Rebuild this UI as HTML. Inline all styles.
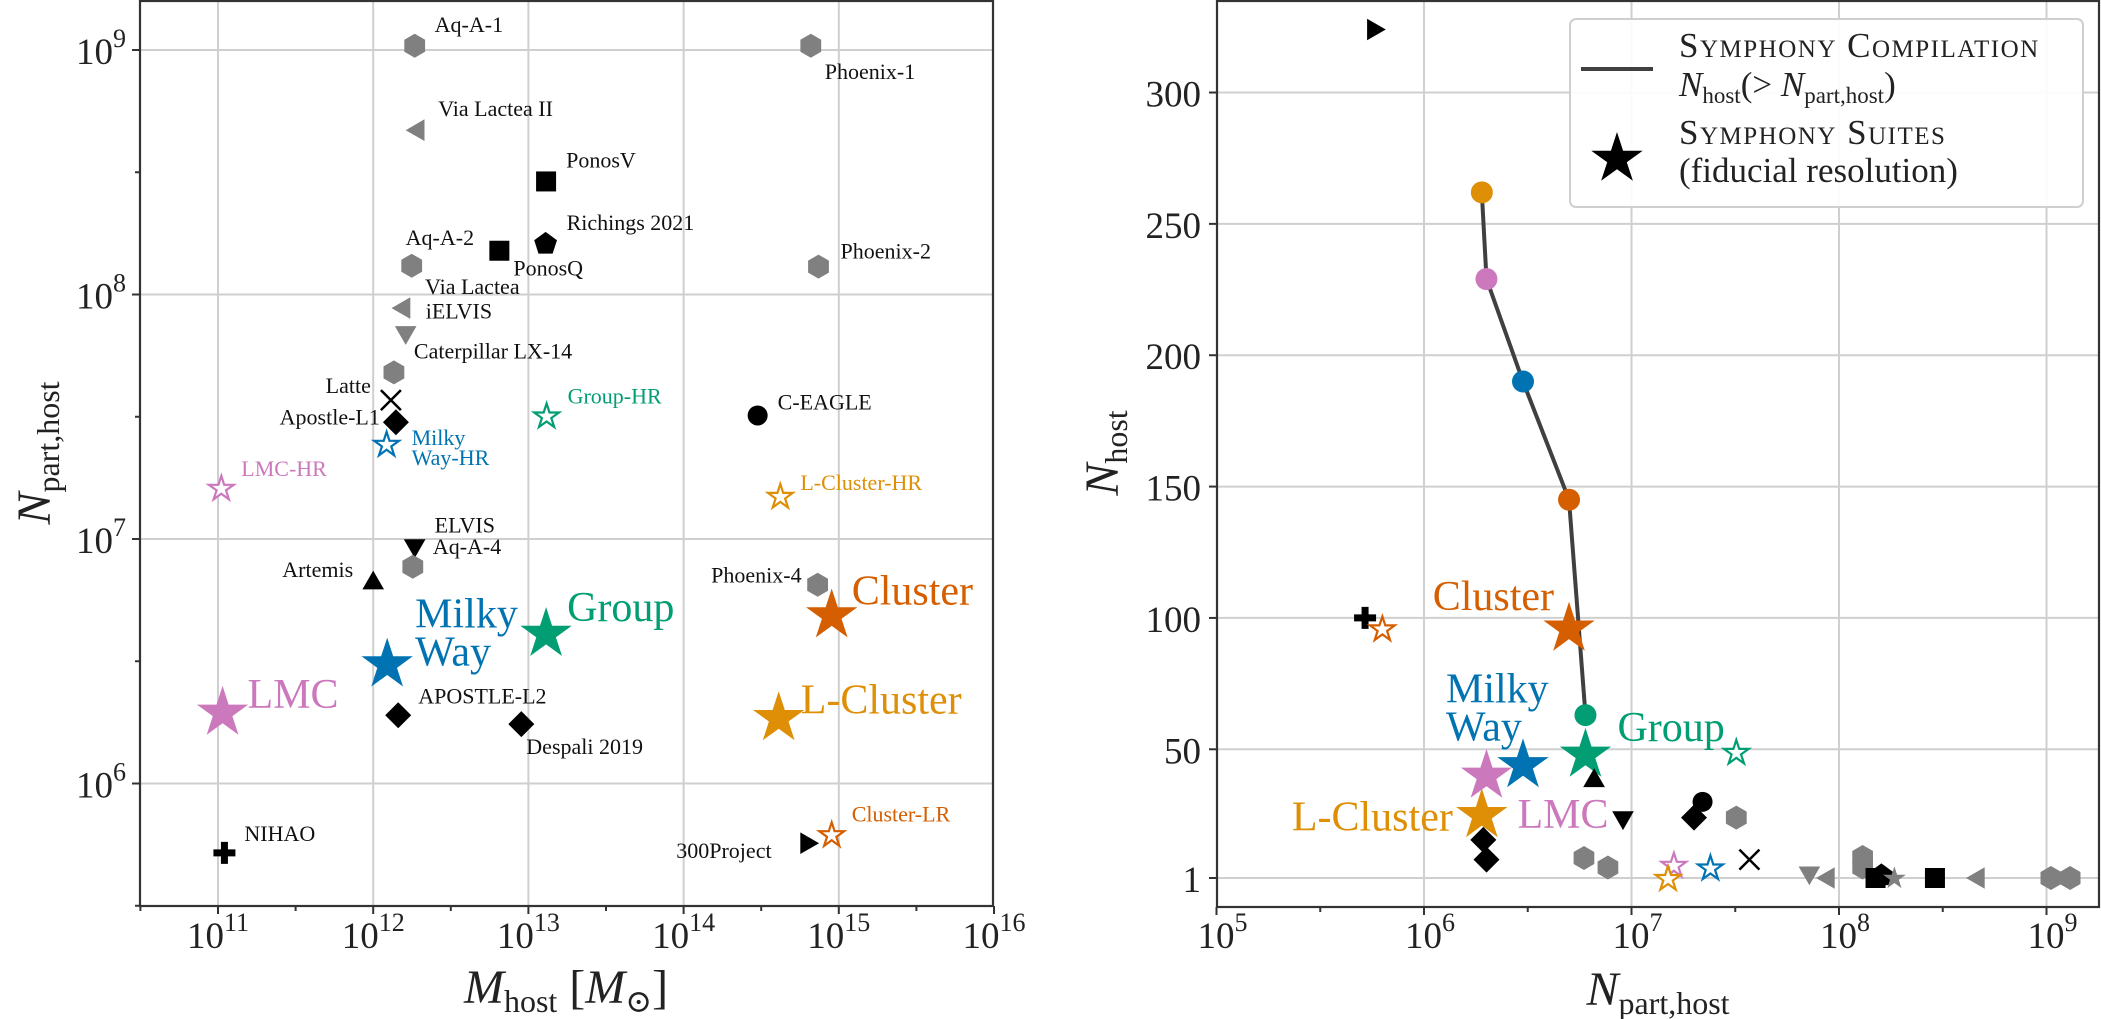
<!DOCTYPE html>
<html><head><meta charset="utf-8"><style>
html,body{margin:0;padding:0;background:#fff;}
svg{display:block;}
svg text{font-family:"Liberation Serif","DejaVu Serif",serif;}
</style></head><body>
<svg id="fig" width="2101" height="1019" viewBox="0 0 2101 1019" xmlns="http://www.w3.org/2000/svg" font-family="Liberation Serif, DejaVu Serif, serif"></svg>
<script>
// ---------- LEFT PANEL DATA ----------
const leftNames=["Aq-A-1","Phoenix-1","Via Lactea II","PonosV","Richings 2021","PonosQ","Aq-A-2","Phoenix-2","Via Lactea","iELVIS","Caterpillar LX-14","Latte","Apostle-L1","Milky Way-HR","Group-HR","C-EAGLE","LMC-HR","L-Cluster-HR","ELVIS","Aq-A-4","Artemis","Phoenix-4","Cluster","Group","Milky Way","LMC","L-Cluster","APOSTLE-L2","Despali 2019","NIHAO","300Project","Cluster-LR"];
const leftMhost=[1.85e12,6.6e14,1.95e12,1.3e13,1.29e13,6.5e12,1.77e12,7.4e14,1.58e12,1.62e12,1.36e12,1.3e12,1.4e12,1.22e12,1.31e13,3.0e14,1.05e11,4.2e14,1.85e12,1.8e12,1.0e12,7.3e14,9.0e14,1.3e13,1.23e12,1.07e11,4.1e14,1.45e12,9.0e12,1.1e11,6.2e14,9.0e14];
const leftNpart=[1.04e9,1.04e9,4.7e8,2.9e8,1.61e8,1.51e8,1.31e8,1.3e8,8.8e7,7.0e7,4.8e7,3.7e7,3.0e7,2.45e7,3.2e7,3.2e7,1.62e7,1.5e7,9.4e6,7.7e6,6.6e6,6.5e6,5.0e6,4.2e6,3.15e6,2.0e6,1.9e6,1.9e6,1.75e6,5.2e5,5.7e5,6.2e5];
const leftXTicks=[11,12,13,14,15,16];
const leftYTicks=[6,7,8,9];
// ---------- RIGHT PANEL DATA ----------
const compNpart=[1.9e6,2.0e6,3.0e6,5.0e6,6.0e6];
const compNhost=[262,229,190,145,63];
const rightNames=["300Project","NIHAO","Cluster-LR","Cluster","Group","Milky Way","LMC","L-Cluster","Artemis","ELVIS","APOSTLE-L2","Despali 2019","Phoenix-4","Aq-A-4","C-EAGLE","Apostle-L1","Caterpillar LX-14","Group-HR","LMC-HR","L-Cluster-HR","Milky Way-HR","Latte","iELVIS","Via Lactea","Aq-A-2","Phoenix-2","PonosQ","Richings 2021","Grey-star","PonosV","Via Lactea II","Aq-A-1","Phoenix-1"];
const rightNpart=[5.7e5,5.2e5,6.3e5,5.0e6,6.0e6,3.0e6,2.0e6,1.9e6,6.6e6,9.1e6,1.93e6,2.0e6,5.9e6,7.7e6,2.2e7,2.0e7,3.2e7,3.2e7,1.6e7,1.5e7,2.4e7,3.7e7,7.2e7,8.9e7,1.3e8,1.3e8,1.5e8,1.6e8,1.85e8,2.9e8,4.7e8,1.05e9,1.3e9];
const rightNhost=[324,100,96,97,49,45,41,26,38,24,15.5,8,8.6,5,30,24,24,49,6,1,5,8,3,1,9,5,1,2,2,1,1,1,1];
const rightXTicks=[5,6,7,8,9];
const rightYTicks=[1,50,100,150,200,250,300];

// ---------- STYLES ----------
const GREY="#808080",PINK="#CC78BC",BLUE="#0173B2",GREEN="#029E73",ORANGE="#DE8F05",RED="#D55E00";
const S={
"Aq-A-1":{m:"hex",c:GREY,l:[20,-14,"start"]},
"Phoenix-1":{m:"hex",c:GREY,l:[14,33,"start"]},
"Via Lactea II":{m:"tril",c:GREY,l:[20,-14,"start"]},
"PonosV":{m:"sq",c:"#000",l:[20,-14,"start"]},
"Richings 2021":{m:"pent",c:"#000",l:[21,-14,"start"]},
"PonosQ":{m:"sq",c:"#000",l:[14,25,"start"]},
"Aq-A-2":{m:"hex",c:GREY,l:[-6,-21,"start"]},
"Phoenix-2":{m:"hex",c:GREY,l:[22,-8,"start"]},
"Via Lactea":{m:"tril",c:GREY,l:[21,-14,"start"]},
"iELVIS":{m:"trid",c:GREY,l:[20,-14,"start"]},
"Caterpillar LX-14":{m:"hex",c:GREY,l:[20,-14,"start"]},
"Latte":{m:"x",c:"#000",l:[-20,-7,"end"]},
"Apostle-L1":{m:"dia",c:"#000",l:[-16,2,"end"]},
"Milky Way-HR":{m:"ostar",c:BLUE,l:[25,1,"start"],t:["Milky","Way-HR"],tc:BLUE},
"Group-HR":{m:"ostar",c:GREEN,l:[21,-12,"start"],tc:GREEN},
"C-EAGLE":{m:"circ",c:"#000",l:[20,-6,"start"]},
"LMC-HR":{m:"ostar",c:PINK,l:[20,-12,"start"],tc:PINK},
"L-Cluster-HR":{m:"ostar",c:ORANGE,l:[20,-6,"start"],tc:ORANGE},
"ELVIS":{m:"trid",c:"#000",l:[20,-13,"start"]},
"Aq-A-4":{m:"hex",c:GREY,l:[20,-13,"start"]},
"Artemis":{m:"triu",c:"#000",l:[-20,-6,"end"]},
"Phoenix-4":{m:"hex",c:GREY,l:[-16,-2,"end"]},
"Cluster":{m:"star",c:RED,l:[20,-8,"start"],tc:RED,big:1},
"Group":{m:"star",c:GREEN,l:[21,-10,"start"],tc:GREEN,big:1},
"Milky Way":{m:"star",c:BLUE,l:[28,-34,"start"],t:["Milky","Way"],tc:BLUE,big:1},
"LMC":{m:"star",c:PINK,l:[25,-2,"start"],tc:PINK,big:1},
"L-Cluster":{m:"star",c:ORANGE,l:[22,-2,"start"],tc:ORANGE,big:1},
"APOSTLE-L2":{m:"dia",c:"#000",l:[20,-12,"start"]},
"Despali 2019":{m:"dia",c:"#000",l:[5,30,"start"]},
"NIHAO":{m:"plus",c:"#000",l:[20,-12,"start"]},
"300Project":{m:"trir",c:"#000",l:[-35,15,"end"]},
"Cluster-LR":{m:"ostar",c:RED,l:[20,-13,"start"],tc:RED},
"Grey-star":{m:"star",c:GREY,small:1}
};
const rightLabels={"Cluster":[-15,-16,"end",["Cluster"]],"Milky Way":[-77,-60,"start",["Milky","Way"]],"Group":[32,-11,"start",["Group"]],"L-Cluster":[-29,18,"end",["L-Cluster"]],"LMC":[31,55,"start",["LMC"]]};

const svg=document.getElementById('fig');
const NS="http://www.w3.org/2000/svg";
const FF="Liberation Serif, DejaVu Serif, serif";
function mk(tag,attrs,parent){const e=document.createElementNS(NS,tag);for(const k in attrs)e.setAttribute(k,attrs[k]);if(tag==='text')e.setAttribute('font-family',FF);(parent||svg).appendChild(e);return e;}

// axis functions
const Lx=v=>218+(Math.log10(v)-11)*155.2;
const Ly=v=>50+(9-Math.log10(v))*244.5;
const Rx=v=>1424+(Math.log10(v)-6)*207.5;
const Ry=v=>878-(v-1)*2.627;

function starPts(cx,cy,R){let p=[];for(let i=0;i<10;i++){const r=i%2?R*0.382:R;const a=-Math.PI/2+i*Math.PI/5;p.push((cx+r*Math.cos(a)).toFixed(1)+","+(cy+r*Math.sin(a)).toFixed(1));}return p.join(" ");}
function polyPts(cx,cy,R,n,rot){let p=[];for(let i=0;i<n;i++){const a=rot+i*2*Math.PI/n;p.push((cx+R*Math.cos(a)).toFixed(1)+","+(cy+R*Math.sin(a)).toFixed(1));}return p.join(" ");}
function marker(g,st,cx,cy,name){
  let e;const c=st.c;
  switch(st.m){
    case "hex": e=mk('polygon',{points:polyPts(cx,cy,12,6,-Math.PI/2),fill:c},g);break;
    case "circ": e=mk('circle',{cx:cx,cy:cy,r:10,fill:c},g);break;
    case "sq": e=mk('rect',{x:cx-10,y:cy-10,width:20,height:20,fill:c},g);break;
    case "pent": e=mk('polygon',{points:polyPts(cx,cy,12,5,-Math.PI/2),fill:c},g);break;
    case "dia": e=mk('polygon',{points:polyPts(cx,cy,13,4,-Math.PI/2),fill:c},g);break;
    case "triu": e=mk('polygon',{points:polyPts(cx,cy,12.5,3,-Math.PI/2),fill:c},g);break;
    case "trid": e=mk('polygon',{points:polyPts(cx,cy,12.5,3,Math.PI/2),fill:c},g);break;
    case "tril": e=mk('polygon',{points:polyPts(cx,cy,12.5,3,Math.PI),fill:c},g);break;
    case "trir": e=mk('polygon',{points:polyPts(cx,cy,12.5,3,0),fill:c},g);break;
    case "x": e=mk('path',{d:`M${cx-10},${cy-10}L${cx+10},${cy+10}M${cx-10},${cy+10}L${cx+10},${cy-10}`,stroke:c,'stroke-width':2.5,fill:'none'},g);break;
    case "plus": e=mk('path',{d:`M${cx-11},${cy}L${cx+11},${cy}M${cx},${cy-11}L${cx},${cy+11}`,stroke:c,'stroke-width':7,fill:'none'},g);break;
    case "ostar": e=mk('polygon',{points:starPts(cx,cy+1,13),fill:'#fff',stroke:c,'stroke-width':2.2},g);break;
    case "star": e=mk('polygon',{points:starPts(cx,cy+3,st.big?27:(st.small?12:27)),fill:c},g);break;
  }
  
  
  return e;
}
function tickLabel(g,x,y,exp,anchor,name){
  const t=mk('text',{x:x,y:y,'font-size':37,fill:'#222','text-anchor':anchor},g);
  
  
  const a=document.createElementNS(NS,'tspan');a.textContent="10";t.appendChild(a);
  const b=document.createElementNS(NS,'tspan');b.setAttribute('dy','-17');b.setAttribute('font-size','26');b.textContent=String(exp);t.appendChild(b);
}

// ---------- LEFT PANEL ----------
const gl=mk('g',{});
const LX0=140,LX1=993,LY0=1,LY1=906;
const gridL=mk('g',{stroke:'#cfcfcf','stroke-width':2},gl);
leftXTicks.forEach(e=>{const x=Lx(Math.pow(10,e));if(x<LX1-1)mk('line',{x1:x,y1:LY0,x2:x,y2:LY1},gridL);});
leftYTicks.forEach(e=>{const y=Ly(Math.pow(10,e));mk('line',{x1:LX0,y1:y,x2:LX1,y2:y},gridL);});
const tkL=mk('g',{stroke:'#333','stroke-width':2},gl);
leftXTicks.forEach(e=>{const x=Lx(Math.pow(10,e));mk('line',{x1:x,y1:LY1,x2:x,y2:LY1+8},tkL);const xm=Lx(Math.pow(10,e-0.5));if(xm>LX0)mk('line',{x1:xm,y1:LY1,x2:xm,y2:LY1+5},tkL);tickLabel(gl,x,948,e,'middle','x-tick-label-1e'+e);});
leftYTicks.forEach(e=>{const y=Ly(Math.pow(10,e));mk('line',{x1:LX0-8,y1:y,x2:LX0,y2:y},tkL);tickLabel(gl,126,y+14,e,'end','y-tick-label-1e'+e);});
[5.5,6.5,7.5,8.5].forEach(e=>{const y=Ly(Math.pow(10,e));mk('line',{x1:LX0-5,y1:y,x2:LX0,y2:y},tkL);});
const ptsL=mk('g',{},gl);
leftNames.forEach((n,i)=>{
  const st=S[n];const cx=Lx(leftMhost[i]),cy=Ly(leftNpart[i]);
  marker(ptsL,st,cx,cy,'left-'+n);
  const lines=st.t||[n];
  const fs=st.big?42:22;const lh=st.big?38:20;
  lines.forEach((ln,k)=>{
    const t=mk('text',{x:cx+st.l[0],y:cy+st.l[1]+k*lh,'font-size':fs,fill:st.tc||'#111','text-anchor':st.l[2]},ptsL);
    t.textContent=ln;
    
    
  });
});
const spL=mk('rect',{x:LX0,y:LY0,width:LX1-LX0,height:LY1-LY0,fill:'none',stroke:'#333','stroke-width':2.2},gl);

let t=mk('text',{x:566,y:1003,'font-size':48,'text-anchor':'middle',fill:'#222'},gl);

t.innerHTML='<tspan font-style="italic">M</tspan><tspan font-size="32" dy="9">host</tspan><tspan dy="-9"> [</tspan><tspan font-style="italic">M</tspan><tspan font-size="32" dy="9">⊙</tspan><tspan dy="-9">]</tspan>';
t=mk('text',{x:0,y:0,'font-size':48,'text-anchor':'middle',fill:'#222',transform:'translate(50,453) rotate(-90)'},gl);

t.innerHTML='<tspan font-style="italic">N</tspan><tspan font-size="32" dy="9">part,host</tspan>';

// ---------- RIGHT PANEL ----------
const gr=mk('g',{});
const RX0=1217,RX1=2099,RY0=1,RY1=907;
const gridR=mk('g',{stroke:'#cfcfcf','stroke-width':2},gr);
rightXTicks.forEach(e=>{const x=Rx(Math.pow(10,e));if(x>RX0+1)mk('line',{x1:x,y1:RY0,x2:x,y2:RY1},gridR);});
rightYTicks.forEach(v=>{const y=Ry(v);mk('line',{x1:RX0,y1:y,x2:RX1,y2:y},gridR);});
const tkR=mk('g',{stroke:'#333','stroke-width':2},gr);
rightXTicks.forEach(e=>{const x=Rx(Math.pow(10,e));mk('line',{x1:x,y1:RY1,x2:x,y2:RY1+8},tkR);const xm=Rx(Math.pow(10,e+0.5));if(xm<RX1)mk('line',{x1:xm,y1:RY1,x2:xm,y2:RY1+5},tkR);tickLabel(gr,x+6,948,e,'middle','right-x-tick-label-1e'+e);});
rightYTicks.forEach(v=>{const y=Ry(v);mk('line',{x1:RX0-8,y1:y,x2:RX0,y2:y},tkR);const tt=mk('text',{x:1201,y:y+14,'font-size':37,'text-anchor':'end',fill:'#222'},gr);tt.textContent=String(v);});
const lp=compNpart.map((v,i)=>Rx(v).toFixed(1)+","+Ry(compNhost[i]).toFixed(1)).join(" ");
const pl=mk('polyline',{points:lp,fill:'none',stroke:'#404040','stroke-width':4},gr);

const compColors=[ORANGE,PINK,BLUE,RED,GREEN];
compNpart.forEach((v,i)=>{const c=mk('circle',{cx:Rx(v),cy:Ry(compNhost[i]),r:11,fill:compColors[i]},gr);});
const ptsR=mk('g',{},gr);
rightNames.forEach((n,i)=>{
  const st=S[n];const cx=Rx(rightNpart[i]),cy=Ry(rightNhost[i]);
  marker(ptsR,st,cx,cy,'right-'+n);
  const L=rightLabels[n];
  if(L){L[3].forEach((ln,k)=>{const tt=mk('text',{x:cx+L[0],y:cy+L[1]+k*38,'font-size':42,fill:st.c,'text-anchor':L[2]},ptsR);tt.textContent=ln;});}
});
const spR=mk('rect',{x:RX0,y:RY0,width:RX1-RX0,height:RY1-RY0,fill:'none',stroke:'#333','stroke-width':2.2},gr);

t=mk('text',{x:1658,y:1005,'font-size':48,'text-anchor':'middle',fill:'#222'},gr);

t.innerHTML='<tspan font-style="italic">N</tspan><tspan font-size="32" dy="9">part,host</tspan>';
t=mk('text',{x:0,y:0,'font-size':48,'text-anchor':'middle',fill:'#222',transform:'translate(1118,453) rotate(-90)'},gr);

t.innerHTML='<tspan font-style="italic">N</tspan><tspan font-size="32" dy="9">host</tspan>';
// legend
const lg=mk('g',{},gr);
mk('rect',{x:1570,y:19,width:513,height:188,rx:6,fill:'#fff','fill-opacity':0.9,stroke:'#cfcfcf','stroke-width':2},lg);
const ll=mk('line',{x1:1581,y1:69,x2:1653,y2:69,stroke:'#404040','stroke-width':4},lg);

const ls=mk('polygon',{points:starPts(1617,159,27),fill:'#000'},lg);

const legTexts=[[57,'Symphony Compilation',1],[96,null,0],[144,'Symphony Suites',1],[182,'(fiducial resolution)',0]];
legTexts.forEach((r,k)=>{
  const tt=mk('text',{x:1679,y:r[0],'font-size':35,fill:'#222'},lg);
  if(r[2]){tt.setAttribute('font-variant','small-caps');tt.setAttribute('letter-spacing','1.5');}
  if(r[1])tt.textContent=r[1];
  else tt.innerHTML='<tspan font-style="italic">N</tspan><tspan font-size="23" dy="7">host</tspan><tspan dy="-7">(&gt; </tspan><tspan font-style="italic">N</tspan><tspan font-size="23" dy="7">part,host</tspan><tspan dy="-7">)</tspan>';
  
  
});
</script>
</body></html>
